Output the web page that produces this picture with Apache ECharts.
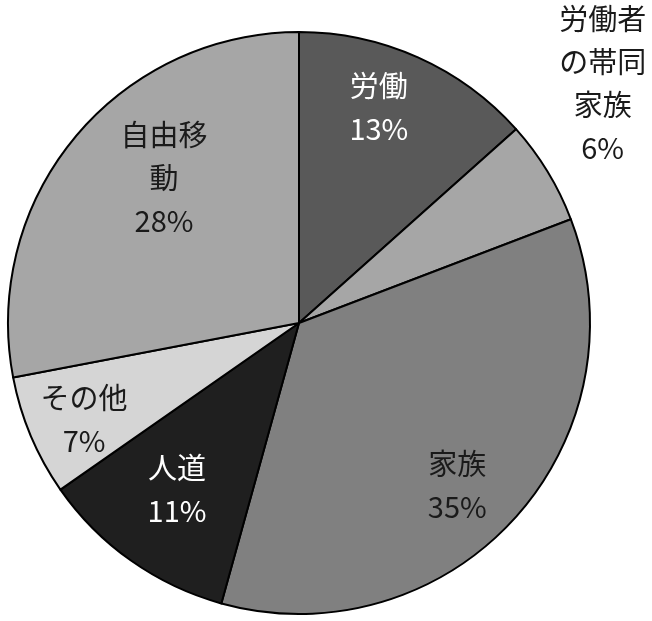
<!DOCTYPE html>
<html><head><meta charset="utf-8">
<script src="https://cdn.jsdelivr.net/npm/echarts@6/dist/echarts.min.js"></script>
<style>html,body{margin:0;padding:0;background:#fff}#c{width:652px;height:621px}</style>
</head><body><div id="c"></div>
<script>
// Data
const categories = ['労働', '労働者の帯同家族', '家族', '人道', 'その他', '自由移動'];
const labelTexts = ['労働', '労働者\nの帯同\n家族', '家族', '人道', 'その他', '自由移\n動'];
const values = [13.4, 5.8, 35.1, 11.0, 6.7, 28.0];
const percentLabels = ['13%', '6%', '35%', '11%', '7%', '28%'];

// Style
const colors = ['#595959', '#a6a6a6', '#808080', '#1f1f1f', '#d5d5d5', '#a6a6a6'];
const textColors = ['#ffffff', '#1a1a1a', '#1a1a1a', '#ffffff', '#1a1a1a', '#1a1a1a'];
const labelRadiusRatio = [0.79, 1.33, 0.78, 0.71, 0.81, 0.68];
const labelAngleNudge = [-3.8, -7, 3.5, 0.9, -1.4, 7.4];
const CX = 299, CY = 323, R = 291;

const total = values.reduce((a, b) => a + b, 0);
const midAngles = [];
let acc = 0;
values.forEach(v => { midAngles.push((acc + v / 2) / total * 360); acc += v; });

const chart = echarts.init(document.getElementById('c'));
chart.setOption({
  animation: false,
  series: [{
    type: 'pie',
    center: [CX, CY],
    radius: R,
    startAngle: 90,
    clockwise: true,
    itemStyle: { borderColor: '#000', borderWidth: 2 },
    label: {
      show: true,
      position: 'inside',
      fontFamily: '"Noto Sans CJK JP", "Noto Sans", sans-serif',
      fontSize: 29,
      lineHeight: 43,
      align: 'center',
      formatter: p => labelTexts[p.dataIndex] + '\n' + percentLabels[p.dataIndex]
    },
    labelLine: { show: false },
    labelLayout: function (p) {
      const i = p.dataIndex;
      const a = (midAngles[i] + labelAngleNudge[i]) * Math.PI / 180;
      const r = R * labelRadiusRatio[i];
      return {
        x: CX + r * Math.sin(a),
        y: CY - r * Math.cos(a),
        align: 'center',
        verticalAlign: 'middle'
      };
    },
    emphasis: { disabled: true },
    data: categories.map((c, i) => ({
      name: c,
      value: values[i],
      itemStyle: { color: colors[i] },
      label: { color: textColors[i] }
    }))
  }]
});
</script>
</body></html>
